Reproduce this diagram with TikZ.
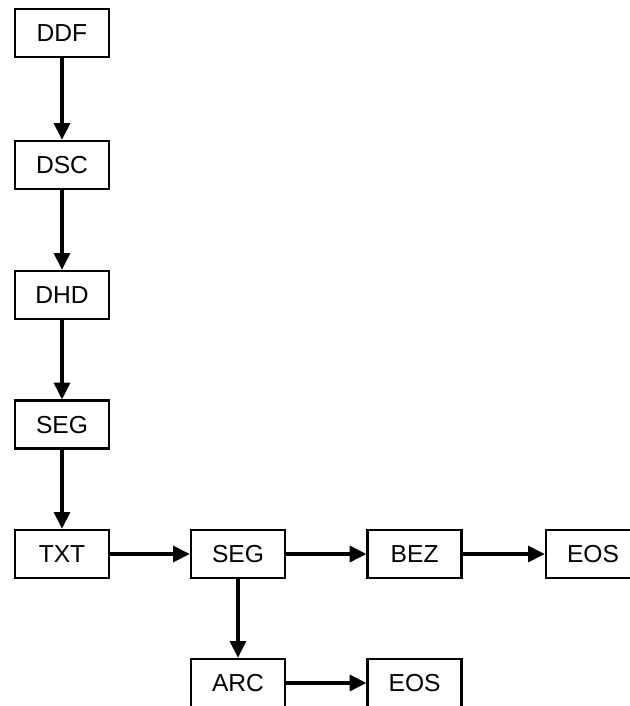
\documentclass[tikz,border=0pt]{standalone}
\usepackage{fontspec}
\setmainfont{Liberation Sans}
\usepackage{tikz}
\usetikzlibrary{positioning,arrows.meta}
\tikzset{
  rec/.style={rectangle, draw=black, line width=2.2pt, fill=white,
    minimum width=2.82cm, minimum height=1.44cm, inner sep=0pt,
    font=\fontsize{21}{24}\selectfont},
  flow/.style={-{Triangle[length=5mm, width=4.8mm]}, draw=black, line width=2.6pt},
}

\begin{document}
\begin{tikzpicture}
\useasboundingbox (0,0) rectangle (18.87,-21.18);
% ---- header spine ----
\node[rec] (ddf)  at (1.86,-0.99)  {DDF};
\node[rec] (dsc)  at (1.86,-4.95)  {DSC};
\node[rec] (dhd)  at (1.86,-8.85)  {DHD};
\node[rec] (seg)  at (1.86,-12.74) {SEG};
\node[rec] (txt)  at (1.86,-16.62) {TXT};
% ---- segment row ----
\node[rec] (segb) at (7.14,-16.62)  {SEG};
\node[rec] (bez)  at (12.44,-16.62) {BEZ};
\node[rec] (eos)  at (17.79,-16.62) {EOS};
% ---- arc row ----
\node[rec] (arc)  at (7.14,-20.49)  {ARC};
\node[rec] (eosb) at (12.44,-20.49) {EOS};
% ---- arrows ----
\draw[flow] (ddf) -- (dsc);
\draw[flow] (dsc) -- (dhd);
\draw[flow] (dhd) -- (seg);
\draw[flow] (seg) -- (txt);
\draw[flow] (txt) -- (segb);
\draw[flow] (segb) -- (bez);
\draw[flow] (bez) -- (eos);
\draw[flow] (segb) -- (arc);
\draw[flow] (arc) -- (eosb);
\end{tikzpicture}
\end{document}
